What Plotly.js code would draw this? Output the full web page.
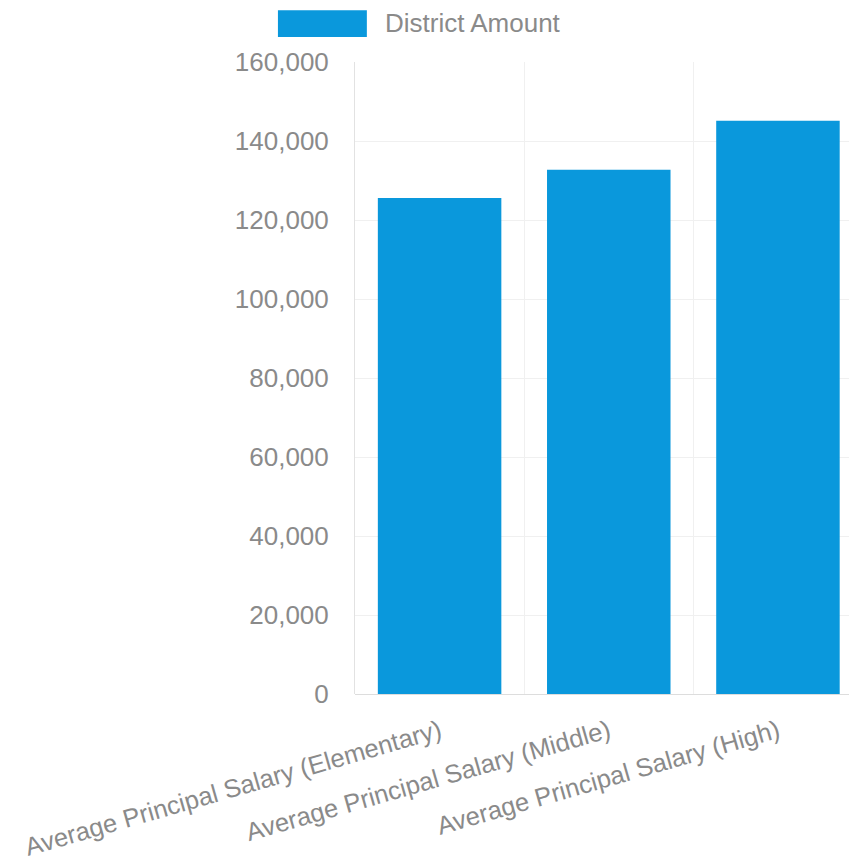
<!DOCTYPE html>
<html>
<head>
<meta charset="utf-8">
<script src="https://cdn.plot.ly/plotly-3.0.1.min.js"></script>
<style>html,body{margin:0;padding:0;background:#fff;}#chart{width:849px;height:865px;}</style>
</head>
<body>
<div id="chart"></div>
<script>
const categories = [
  "Average Principal Salary (Elementary)",
  "Average Principal Salary (Middle)",
  "Average Principal Salary (High)"
];
const districtAmount = [125600, 132700, 145100];
const seriesName = "District Amount";
const yTickVals = [0, 20000, 40000, 60000, 80000, 100000, 120000, 140000, 160000];
const yTickText = ["0", "20,000", "40,000", "60,000", "80,000", "100,000", "120,000", "140,000", "160,000"];

const barColor = "#0a98dc";
const textColor = "#8a8a8a";
const fontFamily = "'Liberation Sans', Arial, sans-serif";

const trace = {
  type: "bar",
  x: categories,
  y: districtAmount,
  name: seriesName,
  marker: {color: barColor},
  width: 0.73,
  showlegend: false,
  hoverinfo: "x+y"
};

const layout = {
  width: 849,
  height: 865,
  margin: {l: 355, r: 0, t: 62, b: 171, pad: 0},
  paper_bgcolor: "#ffffff",
  plot_bgcolor: "#ffffff",
  font: {family: fontFamily, size: 26, color: textColor},
  xaxis: {
    type: "category",
    range: [-0.5, 2.42],
    tickangle: -16,
    tickfont: {family: fontFamily, size: 25.5, color: textColor},
    showgrid: true,
    gridcolor: "#f0f0f0",
    tickson: "boundaries",
    showline: false,
    zeroline: false,
    ticks: "",
    ticklabelstandoff: 17,
    automargin: false
  },
  yaxis: {
    range: [0, 160000],
    tickvals: yTickVals,
    ticktext: yTickText,
    tickfont: {family: fontFamily, size: 26, color: textColor},
    showgrid: true,
    gridcolor: "#f0f0f0",
    zeroline: true,
    zerolinecolor: "#dddddd",
    zerolinewidth: 1,
    showline: true,
    linecolor: "#e2e2e2",
    linewidth: 1,
    ticks: "",
    ticklabelstandoff: 20,
    automargin: false
  },
  shapes: [{
    type: "rect",
    xref: "paper", yref: "paper",
    x0: -0.156, x1: 0.024,
    y0: 1.0396, y1: 1.082,
    fillcolor: barColor,
    line: {width: 0}
  }],
  annotations: [{
    xref: "paper", yref: "paper",
    x: 0.057, y: 1.0617,
    xanchor: "left", yanchor: "middle",
    text: seriesName,
    showarrow: false,
    font: {family: fontFamily, size: 26, color: textColor}
  }]
};

Plotly.newPlot("chart", [trace], layout, {displayModeBar: false});
</script>
</body>
</html>
